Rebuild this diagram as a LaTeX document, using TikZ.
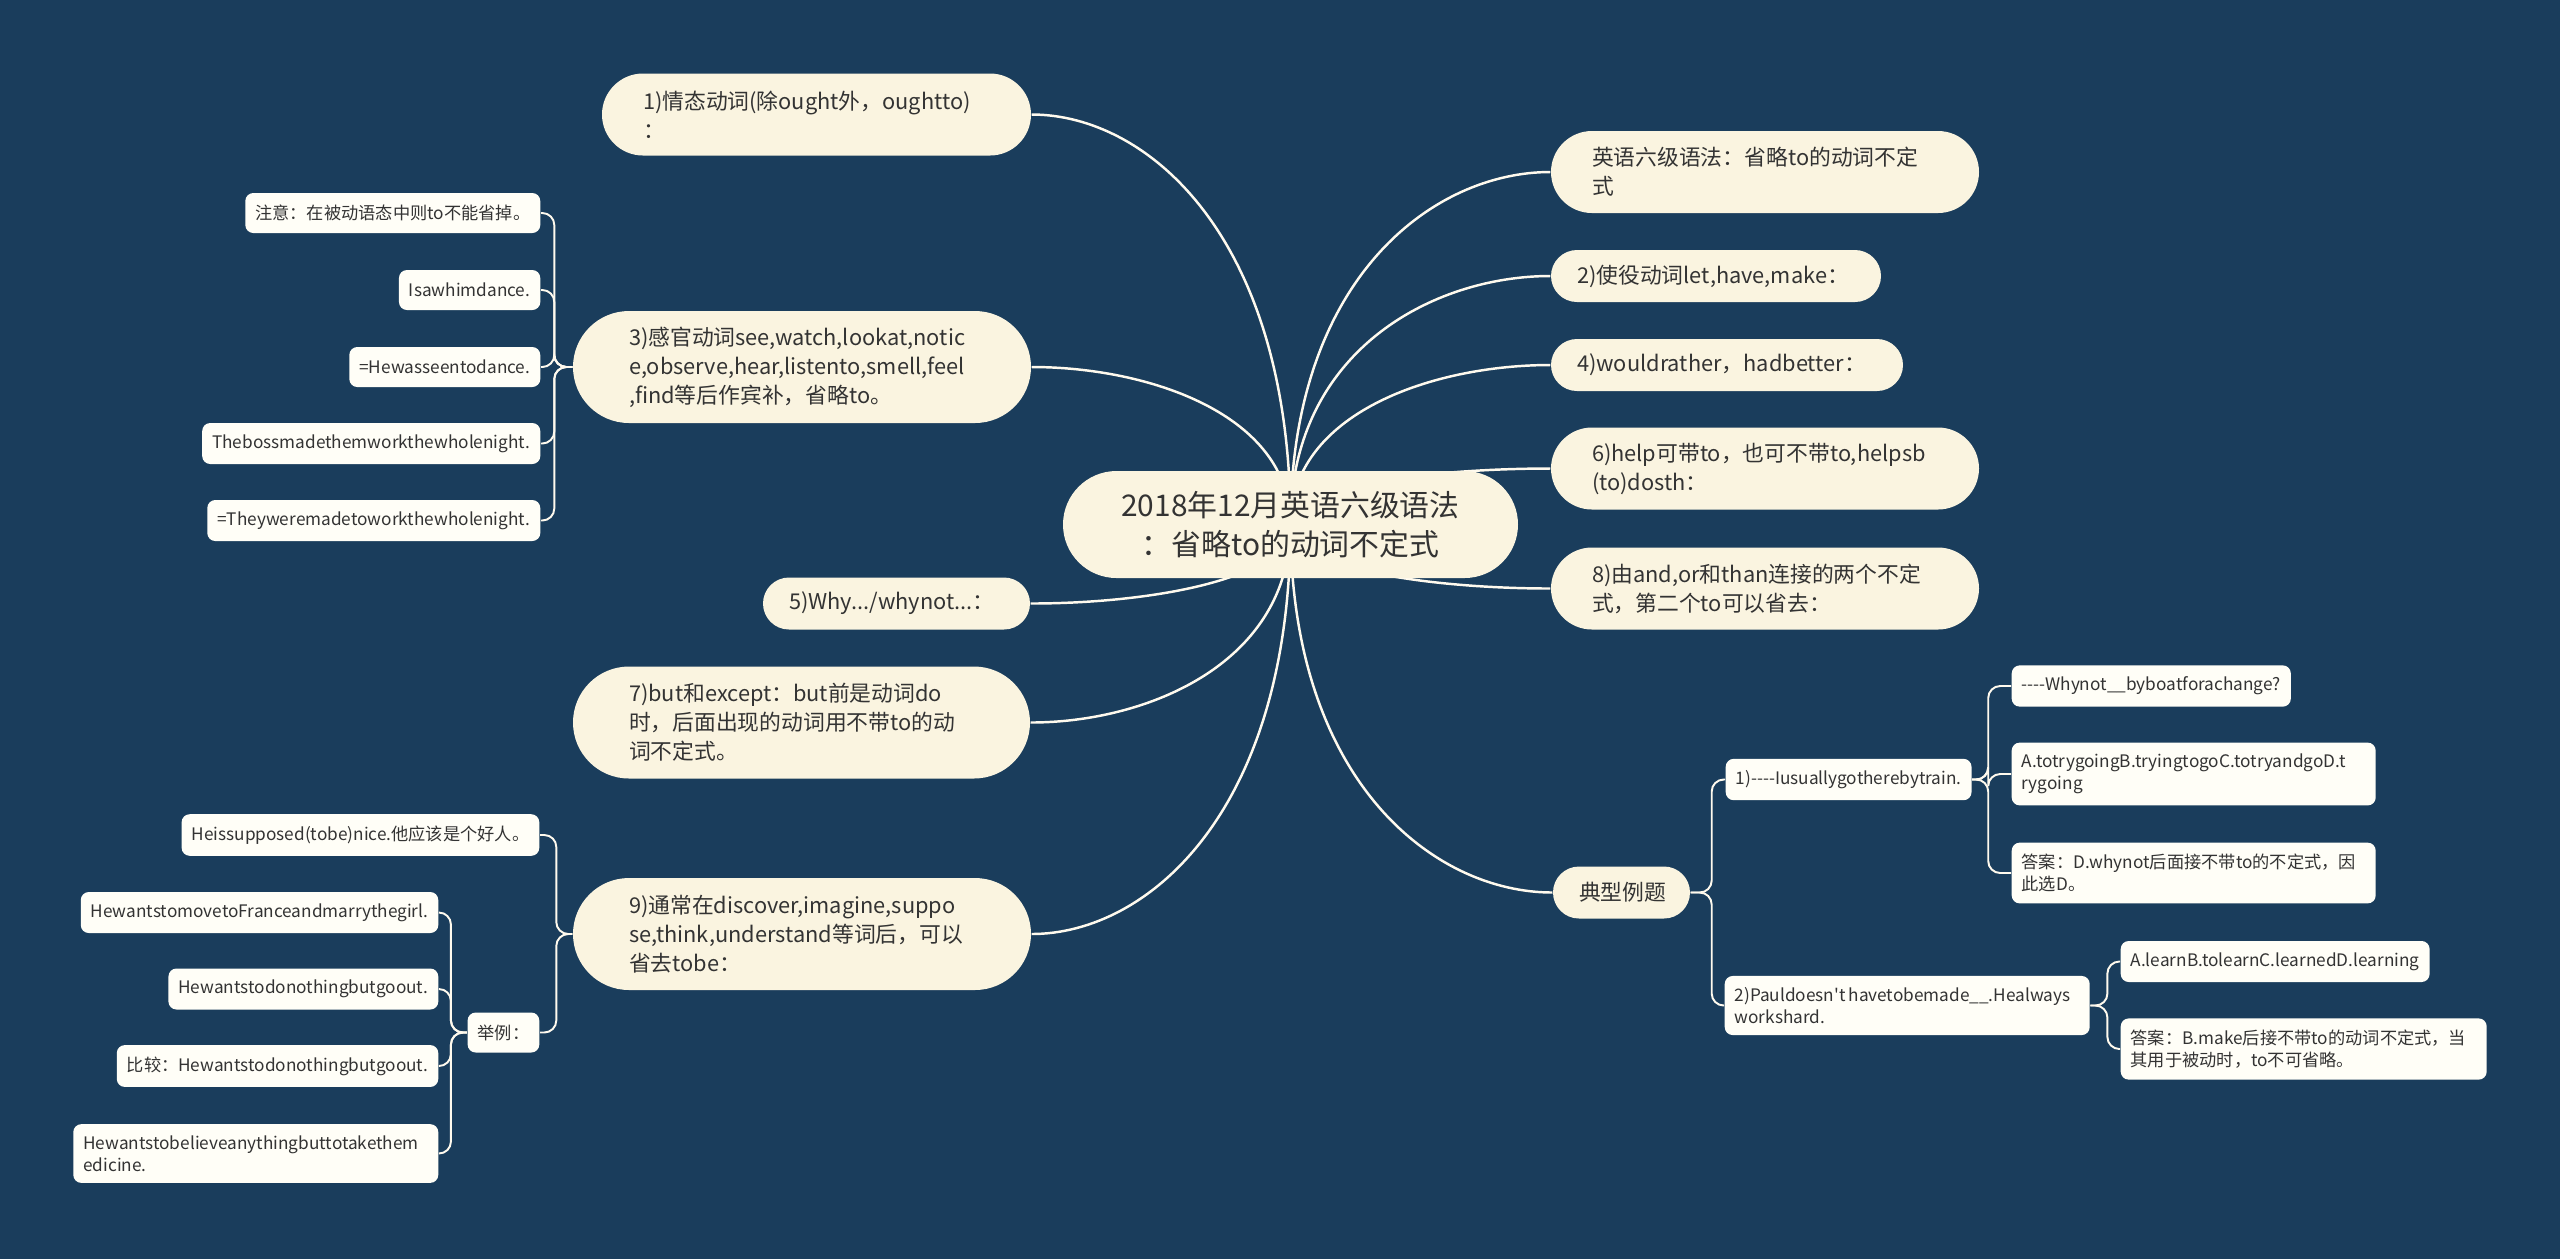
\documentclass[tikz,border=0pt]{standalone}
\usepackage{fontspec}
\setmainfont{Noto Sans CJK SC}[Ligatures=TeXOff]
\usetikzlibrary{calc,positioning}
\definecolor{bgblue}{HTML}{1A3D5C}
\definecolor{topicfill}{HTML}{FAF4E0}
\definecolor{leaffill}{HTML}{FFFEF7}
\definecolor{ink}{HTML}{333333}
\definecolor{linecol}{HTML}{FFFAEE}
\pgfdeclarelayer{back}
\pgfdeclarelayer{links}
\pgfsetlayers{back,links,main}
\tikzset{
  topic/.style={fill=topicfill,text=ink,align=left,rounded corners=#1,
    inner xsep=#1,inner ysep=0pt,minimum height=2*#1,
    font=\fontsize{6.2}{8.25}\selectfont},
  leaf/.style={fill=leaffill,text=ink,align=left,rounded corners=0.8mm,
    inner xsep=1mm,inner ysep=1.15mm,minimum height=4mm,
    font=\fontsize{4.9}{6.2}\selectfont},
  branch/.style={draw=linecol,line width=0.7pt},
  bracket/.style={draw=linecol,line width=0.55pt,rounded corners=1.2mm}
}

\begin{document}
\begin{tikzpicture}[x=0.1mm,y=-0.1mm]
  \begin{pgfonlayer}{back}
    \fill[bgblue] (0,0) rectangle (2560,1259);
  \end{pgfonlayer}
  % 中心主题
  \node[topic=5.35mm,text width=34.8mm,align=center,font=\fontsize{8.5}{11}\selectfont] (root) at (1290.5,524.5)
    {2018年12月英语六级语法\\：省略to的动词不定式};
  % 左侧分支
  \node[topic=4.1mm,text width=34.7mm] (n1) at (816.5,114.5) {1)情态动词(除ought外，oughtto)\\：};
  \node[topic=5.6mm,text width=34.6mm] (n3) at (802,367) {3)感官动词see,watch,lookat,notic\\e,observe,hear,listento,smell,feel\\,find等后作宾补，省略to。};
  \node[topic=2.6mm,text width=21.5mm] (n5) at (896.5,603.5) {5)Why.../whynot...：};
  \node[topic=5.6mm,text width=34.5mm] (n7) at (801.5,722.5) {7)but和except：but前是动词do\\时，后面出现的动词用不带to的动\\词不定式。};
  \node[topic=5.6mm,text width=34.6mm] (n9) at (802,934) {9)通常在discover,imagine,suppo\\se,think,understand等词后，可以\\省去tobe：};
  % 右侧分支
  \node[topic=4.1mm,text width=34.6mm] (r0) at (1765,172) {英语六级语法：省略to的动词不定\\式};
  \node[topic=2.6mm,text width=27.8mm] (r2) at (1716,276) {2)使役动词let,have,make：};
  \node[topic=2.6mm,text width=30mm] (r4) at (1727,365) {4)wouldrather，hadbetter：};
  \node[topic=4.1mm,text width=34.6mm] (r6) at (1765,468.5) {6)help可带to，也可不带to,helpsb\\(to)dosth：};
  \node[topic=4.1mm,text width=34.6mm] (r8) at (1765,588.5) {8)由and,or和than连接的两个不定\\式，第二个to可以省去：};
  \node[topic=2.6mm,text width=8.5mm] (ex) at (1621.5,892.5) {典型例题};
  % 3) 的子项
  \node[leaf,anchor=east] (a1) at (541,213) {注意：在被动语态中则to不能省掉。};
  \node[leaf,anchor=east] (a2) at (541,290) {Isawhimdance.};
  \node[leaf,anchor=east] (a3) at (541,367) {=Hewasseentodance.};
  \node[leaf,anchor=east] (a4) at (541,443.5) {Thebossmadethemworkthewholenight.};
  \node[leaf,anchor=east] (a5) at (541,520.5) {=Theyweremadetoworkthewholenight.};
  % 9) 的子项
  \node[leaf,anchor=east] (b1) at (540,835) {Heissupposed(tobe)nice.他应该是个好人。};
  \node[leaf,anchor=east] (b2) at (540,1032.5) {举例：};
  \node[leaf,anchor=east] (c1) at (439,912.5) {HewantstomovetoFranceandmarrythegirl.};
  \node[leaf,anchor=east] (c2) at (439,989) {Hewantstodonothingbutgoout.};
  \node[leaf,anchor=east] (c3) at (439,1066) {比较：Hewantstodonothingbutgoout.};
  \node[leaf,anchor=east,text width=34.5mm] (c4) at (439,1153.5) {Hewantstobelieveanythingbuttotakethem\\edicine.};
  % 典型例题
  \node[leaf,anchor=west] (d1) at (1725,779.5) {1)-{}-{}-{}-Iusuallygotherebytrain.};
  \node[leaf,anchor=west,text width=34.5mm] (d2) at (1724,1005.5) {2)Pauldoesn't\,havetobemade\_\_.Healways\\workshard.};
  \node[leaf,anchor=west] (e1) at (2011,686) {-{}-{}-{}-Whynot\_\_byboatforachange?};
  \node[leaf,anchor=west,text width=34.4mm] (e2) at (2011,774) {A.totrygoingB.tryingtogoC.totryandgoD.t\\rygoing};
  \node[leaf,anchor=west,text width=34.4mm] (e3) at (2011,873) {答案：D.whynot后面接不带to的不定式，因\\此选D。};
  \node[leaf,anchor=west] (f1) at (2120,961.5) {A.learnB.tolearnC.learnedD.learning};
  \node[leaf,anchor=west,text width=34.6mm] (f2) at (2120,1049) {答案：B.make后接不带to的动词不定式，当\\其用于被动时，to不可省略。};
  % 连线
  \begin{pgfonlayer}{links}
    \foreach \n in {n1,n3,n5,n7,n9}
      \draw[branch] (root.center) .. controls ($(root.center)!0.7!(root.center |- \n.east)$)
        and ($(\n.east)!0.45!(root.center |- \n.east)$) .. (\n.east);
    \foreach \n in {r0,r2,r4,r6,r8,ex}
      \draw[branch] (root.center) .. controls ($(root.center)!0.7!(root.center |- \n.west)$)
        and ($(\n.west)!0.45!(root.center |- \n.west)$) .. (\n.west);
    \foreach \n in {a1,a2,a3,a4,a5}
      \draw[bracket] (n3.west) -- ++(-18,0) |- (\n.east);
    \foreach \n in {b1,b2}
      \draw[bracket] (n9.west) -- ++(-16,0) |- (\n.east);
    \foreach \n in {c1,c2,c3,c4}
      \draw[bracket] (b2.west) -- ++(-16,0) |- (\n.east);
    \foreach \n in {d1,d2}
      \draw[bracket] (ex.east) -- ++(21,0) |- (\n.west);
    \foreach \n in {e1,e2,e3}
      \draw[bracket] (d1.east) -- ++(16,0) |- (\n.west);
    \foreach \n in {f1,f2}
      \draw[bracket] (d2.east) -- ++(17,0) |- (\n.west);
  \end{pgfonlayer}
\end{tikzpicture}
\end{document}
